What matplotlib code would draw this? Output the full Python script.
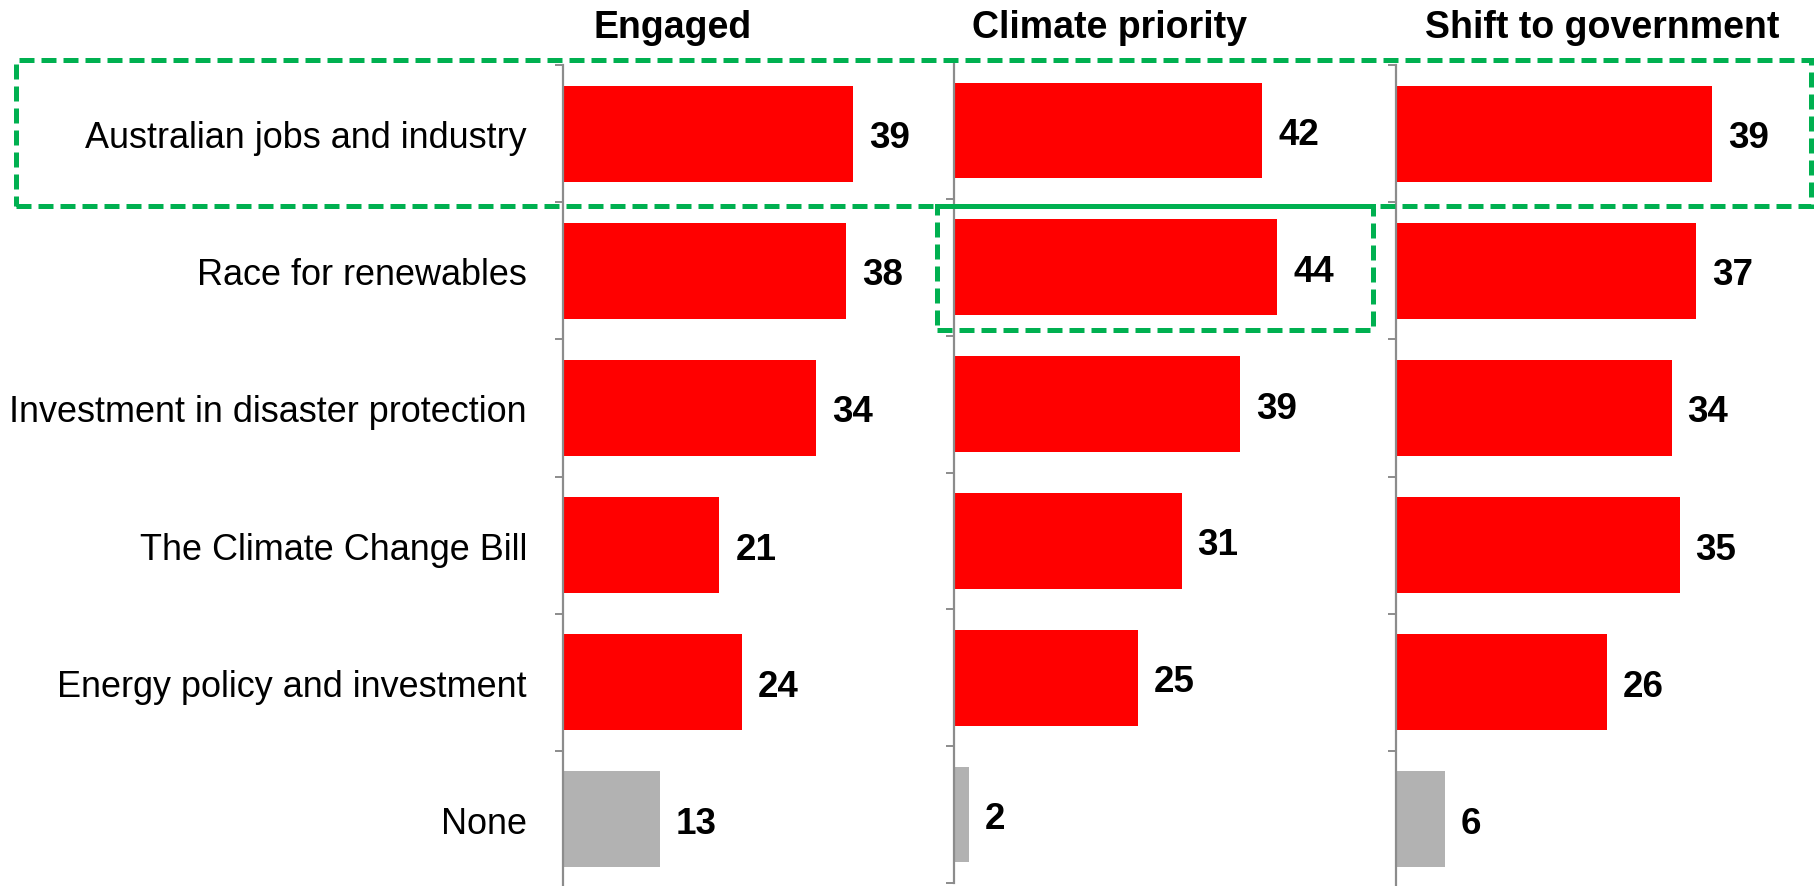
import numpy as np
import matplotlib

matplotlib.use("Agg")
import matplotlib.pyplot as plt
from matplotlib.patches import Rectangle

categories = [
    "Australian jobs and industry",
    "Race for renewables",
    "Investment in disaster protection",
    "The Climate Change Bill",
    "Energy policy and investment",
    "None",
]
panel_titles = ["Engaged", "Climate priority", "Shift to government"]
engaged = [39, 38, 34, 21, 24, 13]
climate_priority = [42, 44, 39, 31, 25, 2]
shift_to_government = [39, 37, 34, 35, 26, 6]

RED = "#FF0000"
GREY = "#B2B2B2"
GREEN = "#00B050"
AXIS_GREY = "#8C8C8C"

W, H = 1819, 887
plt.rcParams["font.family"] = ["Liberation Sans", "DejaVu Sans"]

fig = plt.figure(figsize=(W / 100, H / 100), dpi=100)


def px_axes(left, top, width, bottom):
    """Add an axes given pixel edges measured from the top-left corner."""
    return fig.add_axes([left / W, 1 - bottom / H, width / W, (bottom - top) / H])


# (left px, top px, width px, bottom px, xmax, title centre px)
layout = [
    (563, 66, 391, 889, 52.5, 673),
    (954, 63, 442, 884, 60.2, 1110),
    (1396, 66, 423, 889, 52.2, 1602),
]
series = [engaged, climate_priority, shift_to_government]

y = np.arange(len(categories))
colors = [RED] * (len(categories) - 1) + [GREY]

for i, ((left, top, width, bottom, xmax, tx), vals) in enumerate(zip(layout, series)):
    ax = px_axes(left, top, width, bottom)
    ax.barh(y, vals, height=0.7, color=colors)
    ax.set_xlim(0, xmax)
    ax.set_ylim(len(categories) - 0.5, -0.5)
    for sp in ["top", "right", "bottom"]:
        ax.spines[sp].set_visible(False)
    ax.spines["left"].set_color(AXIS_GREY)
    ax.spines["left"].set_linewidth(1.6)
    ax.set_xticks([])
    ax.set_yticks(np.arange(-0.5, len(categories), 1.0))
    ax.set_yticklabels([])
    ax.tick_params(axis="y", direction="out", length=6, width=1.4, color=AXIS_GREY)
    for yi, v in zip(y, vals):
        ax.annotate(str(v), (v, yi), xytext=(11.5, 0), textcoords="offset points",
                    ha="left", va="center_baseline", fontsize=26.5, fontweight="bold")
    fig.text(tx / W, 1 - 28 / H, panel_titles[i], ha="center", va="center",
             fontsize=27, fontweight="bold")

# category labels to the left of the first panel
ax0 = fig.axes[0]
for yi, label in zip(y, categories):
    ax0.annotate(label, (0, yi), xytext=(-26, 0), textcoords="offset points",
                 ha="right", va="center_baseline", fontsize=25.9)

# dashed highlight boxes
boxes = [
    (16, 61, 1811, 207),
    (937, 207, 1373, 331),
]
for x0, y0, x1, y1 in boxes:
    fig.patches.append(Rectangle((x0 / W, 1 - y1 / H), (x1 - x0) / W, (y1 - y0) / H,
                                 transform=fig.transFigure, fill=False,
                                 edgecolor=GREEN, linewidth=3.6,
                                 linestyle=(0, (3, 1.4)), zorder=10))

fig.savefig("out.png", dpi=100)
